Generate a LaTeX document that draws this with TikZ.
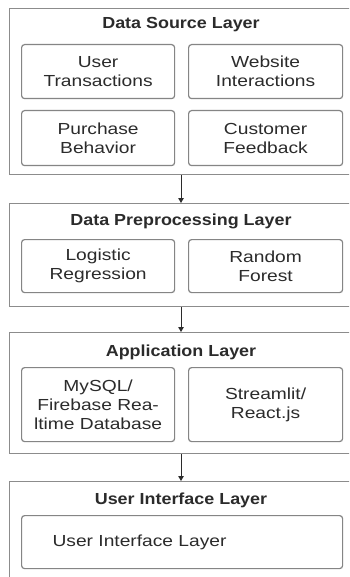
\documentclass[tikz,border=0pt]{standalone}
\usepackage{fontspec}
\setmainfont{Liberation Sans}[FakeStretch=1.2]
\newfontfamily\titlefont{Liberation Sans}[FakeStretch=1.12]
\usetikzlibrary{arrows.meta}
\definecolor{txt}{HTML}{2B2B2B}
\definecolor{edge}{HTML}{858585}
\definecolor{outedge}{HTML}{8C8C8C}
\tikzset{
  x=1pt,y=-1pt,
  outerbox/.style={draw=outedge,line width=1.1pt,anchor=north west,inner sep=0pt},
  innerbox/.style={draw=edge,line width=1.2pt,rounded corners=3pt,anchor=north west,
    inner sep=0pt,align=center,text=txt,font=\fontsize{16}{19}\selectfont},
  layertitle/.style={text=txt,font=\titlefont\bfseries\fontsize{16}{19}\selectfont,inner sep=0pt},
  flow/.style={draw=txt,line width=1pt,-{Triangle[width=5.5pt,length=5pt]}}
}
\begin{document}
\begin{tikzpicture}
\useasboundingbox (0,0) rectangle (349,577);
\clip (0,0) rectangle (349,577);
\fill[white] (0,0) rectangle (349,577);
% Layer 1
\node[outerbox,minimum width=351pt,minimum height=166pt] (L1) at (9,8) {};
\node[layertitle] (T1) at (181,25) {Data Source Layer};
\node[innerbox,minimum width=153pt,minimum height=54pt] (ut) at (21,44) {User\\Transactions};
\node[innerbox,minimum width=154pt,minimum height=54pt] (wi) at (188,44) {Website\\Interactions};
\node[innerbox,minimum width=153pt,minimum height=55pt] (pb) at (21,110) {Purchase\\Behavior};
\node[innerbox,minimum width=154pt,minimum height=55pt] (cf) at (188,110) {Customer\\Feedback};
% Layer 2
\node[outerbox,minimum width=351pt,minimum height=103pt] (L2) at (9,203) {};
\node[layertitle] (T2) at (181,221) {Data Preprocessing Layer};
\node[innerbox,minimum width=153pt,minimum height=53pt] (lr) at (21,239) {Logistic\\Regression};
\node[innerbox,minimum width=154pt,minimum height=53pt] (rf) at (188,239) {Random\\Forest};
% Layer 3
\node[outerbox,minimum width=351pt,minimum height=121pt] (L3) at (9,332) {};
\node[layertitle] (T3) at (181,352) {Application Layer};
\node[innerbox,minimum width=153pt,minimum height=74pt] (db) at (21,367) {MySQL/\\Firebase Rea-\\ltime Database};
\node[innerbox,minimum width=154pt,minimum height=74pt] (sr) at (188,367) {Streamlit/\\React.js};
% Layer 4
\node[outerbox,minimum width=351pt,minimum height=120pt] (L4) at (9,481) {};
\node[layertitle] (T4) at (181,500) {User Interface Layer};
\node[innerbox,minimum width=321pt,minimum height=53pt,text width=259pt,align=left,inner xsep=31pt] (ui) at (21,515) {User Interface Layer};
% Arrows
\draw[flow] (L1.south -| T1) -- (L2.north -| T1);
\draw[flow] (L2.south -| T2) -- (L3.north -| T2);
\draw[flow] (L3.south -| T3) -- (L4.north -| T3);
\end{tikzpicture}
\end{document}
